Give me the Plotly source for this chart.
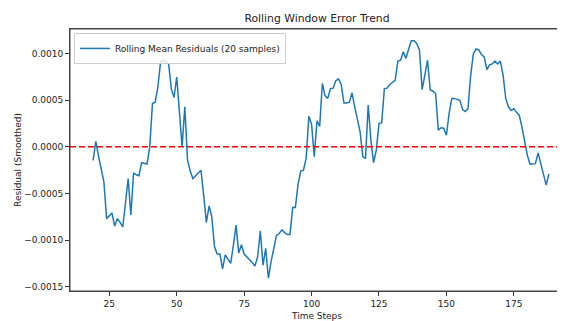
import plotly.graph_objects as go

# Time steps (rolling window of 20 -> first valid index 19)
time_steps = list(range(19, 189))

# Rolling mean residuals (units of 1e-4)
residuals_e4 = [
    -1.45, 0.6, -1.0, -2.5, -3.75, -7.7, -7.4, -7.1, -8.5, -7.7,      # 19-28
    -8.1, -8.6, -6.0, -3.4, -7.3, -2.8, -3.0, -3.1, -1.7, -1.8,       # 29-38
    -1.85, 0.0, 4.65, 4.8, 6.4, 9.1, 9.3, 9.1, 8.9, 6.25,             # 39-48
    5.3, 7.5, 3.5, 0.0, 4.3, -1.4, -2.6, -3.4, -3.1, -2.85,           # 49-58
    -2.5, -5.2, -8.1, -6.35, -7.5, -10.7, -11.5, -11.5, -13.1, -11.6, # 59-68
    -12.1, -12.5, -10.6, -8.4, -11.4, -10.5, -11.5, -11.8, -12.0, -12.4,  # 69-78
    -12.8, -11.8, -9.0, -12.7, -10.9, -14.1, -12.3, -10.8, -9.5, -9.3,    # 79-88
    -8.9, -9.2, -9.4, -9.4, -6.5, -6.5, -4.0, -2.6, -2.5, -1.2,       # 89-98
    3.3, 2.4, -1.05, 2.8, 2.2, 6.8, 5.5, 5.2, 6.25, 6.3,              # 99-108
    7.1, 7.3, 6.7, 4.7, 4.7, 4.8, 5.8, 4.3, 2.85, 1.6,                # 109-118
    -1.05, -1.25, 4.5, 0.7, -1.7, -0.35, 2.5, 2.6, 6.25, 6.3,         # 119-128
    6.7, 6.9, 7.15, 9.2, 9.3, 10.2, 9.5, 10.5, 11.4, 11.4,            # 129-138
    11.1, 10.4, 6.15, 7.7, 9.3, 6.1, 6.0, 5.7, 1.8, 2.05,             # 139-148
    2.0, 1.25, 3.6, 5.2, 5.2, 5.1, 5.0, 4.0, 3.8, 4.1,                # 149-158
    7.7, 10.0, 10.5, 10.4, 9.9, 9.65, 8.3, 8.8, 8.9, 9.2,             # 159-168
    8.9, 9.2, 7.7, 5.2, 4.3, 3.9, 4.1, 3.7, 3.4, 2.15,                # 169-178
    0.55, -0.9, -1.85, -1.8, -1.8, -0.65, -1.8, -3.0, -4.1, -2.9,     # 179-188
]
residuals = [v * 1e-4 for v in residuals_e4]

x_ticks = [25, 50, 75, 100, 125, 150, 175]
y_ticks = [0.0010, 0.0005, 0.0, -0.0005, -0.0010, -0.0015]
y_tick_labels = ["0.0010", "0.0005", "0.0000", "\u22120.0005", "\u22120.0010", "\u22120.0015"]

font = "DejaVu Sans, Liberation Sans, sans-serif"

fig = go.Figure()
fig.add_trace(go.Scatter(
    x=time_steps, y=residuals, mode="lines",
    name="Rolling Mean Residuals (20 samples)",
    line=dict(color="#1f77b4", width=1.5),
))
fig.add_shape(type="line", xref="paper", x0=0, x1=1, yref="y", y0=0, y1=0,
              line=dict(color="red", width=1.5, dash="6px,3px"))
# axes frame (matplotlib-style spines)
fig.add_shape(type="rect", xref="paper", yref="paper", x0=0, x1=1, y0=0, y1=1,
              line=dict(color="#444", width=1), fillcolor="rgba(0,0,0,0)", layer="above")

axis_common = dict(
    showline=True, mirror=True, linecolor="#444", linewidth=1,
    ticks="outside", ticklen=4, tickcolor="#333", tickwidth=1,
    showgrid=False, zeroline=False,
    tickfont=dict(family=font, size=9, color="#222"),
)

# The page body has an 8px margin, so the figure is sized and offset to fit the 565x321 window.
fig.update_layout(
    width=557, height=313,
    margin=dict(l=62, r=1, t=21, b=30),
    paper_bgcolor="white", plot_bgcolor="white",
    title=dict(text="Rolling Window Error Trend", x=0.5, xref="paper", xanchor="center",
               y=1 - 10 / 313, yref="container", yanchor="middle",
               font=dict(family=font, size=10.8, color="#222")),
    xaxis=dict(range=[10.43, 193.6], tickvals=x_ticks,
               title=dict(text="Time Steps", font=dict(family=font, size=9, color="#222"), standoff=4),
               **axis_common),
    yaxis=dict(range=[-0.001547, 0.001265], tickvals=y_ticks, ticktext=y_tick_labels,
               title=dict(text="Residual (Smoothed)", font=dict(family=font, size=9, color="#222"), standoff=1),
               **axis_common),
    showlegend=True,
    legend=dict(x=0.008, y=0.985, xanchor="left", yanchor="top",
                bgcolor="rgba(255,255,255,0.8)", bordercolor="#ccc", borderwidth=1,
                font=dict(family=font, size=9, color="#222")),
)

fig.write_html("out.html")
